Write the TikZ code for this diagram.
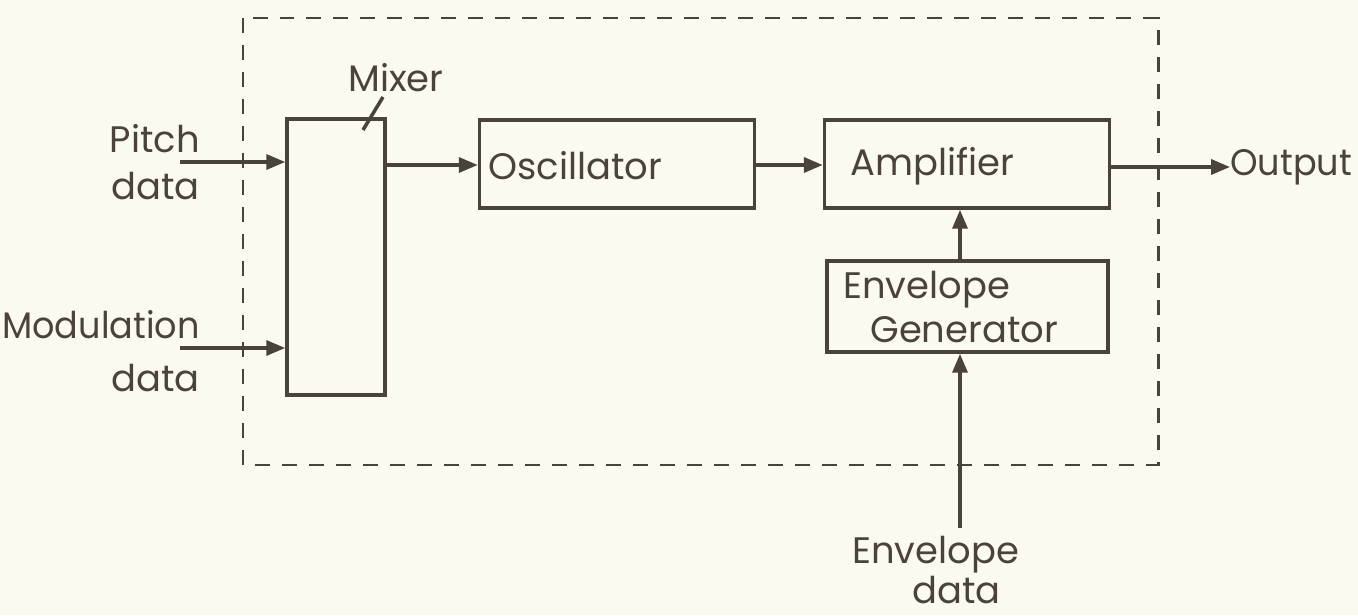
\documentclass[tikz,border=0pt]{standalone}
\usepackage{fontspec}
\setmainfont{Poppins}
\usetikzlibrary{arrows.meta}
\definecolor{bg}{HTML}{FBFAF0}
\definecolor{ink}{HTML}{4A433C}
\begin{document}
\begin{tikzpicture}[x=0.02cm,y=-0.02cm,
  blk/.style={draw=ink,line width=2pt,inner sep=0pt},
  lbl/.style={text=ink,inner sep=0pt,font=\fontsize{21}{25}\selectfont},
  arr/.style={draw=ink,line width=2pt,-{Triangle[length=0.38cm,width=0.3cm]}},
  ln/.style={draw=ink,line width=2pt},
  dsh/.style={draw=ink,line width=1.7pt,dash pattern=on 0.3cm off 0.24cm}]
\fill[bg] (0,0) rectangle (1358,615);
\useasboundingbox (0,0) rectangle (1358,615);
% dashed enclosure
\draw[dsh] (243,18) rectangle (1158,465);
% blocks
\node[blk,minimum width=1.96cm,minimum height=5.52cm] (mix) at (336,257) {};
\node[blk,minimum width=5.5cm,minimum height=1.76cm] (osc) at (617,164) {};
\node[blk,minimum width=5.7cm,minimum height=1.76cm] (amp) at (967,164) {};
\node[blk,minimum width=5.62cm,minimum height=1.82cm] (env) at (967.5,306.5) {};
% texts in blocks
\node[lbl,anchor=west] (osct) at (488,166) {Oscillator};
\node[lbl,anchor=west] (ampt) at (850,166) {Amplifier};
\node[lbl,anchor=west,align=left,font=\fontsize{21}{24.5}\selectfont] (envt) at (843,307) {Envelope\\\hspace*{0.54cm}Generator};
% outside labels
\node[lbl,anchor=east,align=right,font=\fontsize{21}{27}\selectfont] (pitch) at (200,162) {Pitch\\data};
\node[lbl,anchor=east,align=right,font=\fontsize{21}{30}\selectfont] (mod) at (200,351) {\scalebox{0.95}[1]{Modulation}\\data};
\node[lbl] (mixl) at (396,78) {Mixer};
\node[lbl,anchor=west] (out) at (1230,167) {\scalebox{0.95}[1]{Output}};
\node[lbl,anchor=west,align=left,font=\fontsize{21}{23}\selectfont] (envd) at (852,570) {Envelope\\\hspace*{1.2cm}data};
% coordinates
\coordinate (ps) at (180,162);
\coordinate (ms) at (180,348);
\coordinate (es) at (960,528);
\coordinate (sl1) at (363,130);
\coordinate (sl2) at (383,97);
% connectors
\draw[arr] (ps) -- (ps -| mix.west);
\draw[arr] (ms) -- (ms -| mix.west);
\draw[arr] (mix.east |- 0,165) -- (osc.west |- 0,165);
\draw[arr] (osc.east |- 0,165) -- (amp.west |- 0,165);
\draw[arr] (amp.east |- 0,167) -- (out.west |- 0,167);
\draw[arr] (env.north -| es) -- (amp.south -| es);
\draw[arr] (es) -- (env.south -| es);
\draw[ln] (sl1) -- (sl2);
\end{tikzpicture}
\end{document}
